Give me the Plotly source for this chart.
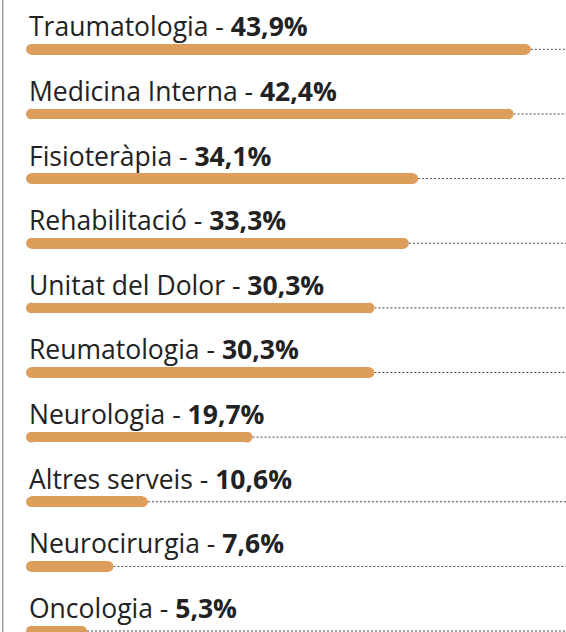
import plotly.graph_objects as go

categories = ["Traumatologia", "Medicina Interna", "Fisioteràpia", "Rehabilitació",
              "Unitat del Dolor", "Reumatologia", "Neurologia", "Altres serveis",
              "Neurocirurgia", "Oncologia"]
values = [43.9, 42.4, 34.1, 33.3, 30.3, 30.3, 19.7, 10.6, 7.6, 5.3]

BAR_COLOR = "#DD9E5B"
TEXT_COLOR = "#222222"
W, H = 566, 632

# axis ranges (value units / row units)
PX_PER_UNIT = 11.5
x_min, x_max = -26 / PX_PER_UNIT, (566 - 26) / PX_PER_UNIT
y_top, y_bottom = -0.763, 9.015
BAR_PX = 10.7
ROW_PX = 64.64
cap = (BAR_PX / 2) / PX_PER_UNIT  # cap radius in value units

labels = [f"{v:.1f}".replace(".", ",") + "%" for v in values]
rows = list(range(len(categories)))

fig = go.Figure()

# dotted leader lines from bar end to the right edge
for i, v in zip(rows, values):
    fig.add_trace(go.Scatter(
        x=[v, x_max], y=[i, i], mode="lines",
        line=dict(color="#4a4a4a", width=1, dash="2px,2px"),
        hoverinfo="skip", showlegend=False))

# bar bodies
fig.add_trace(go.Bar(
    y=rows, x=[v - 2 * cap for v in values], base=[cap] * len(values),
    orientation="h", width=BAR_PX / ROW_PX,
    marker=dict(color=BAR_COLOR, line=dict(width=0)),
    showlegend=False, hoverinfo="skip"))

# rounded caps at both ends
fig.add_trace(go.Scatter(
    x=[cap] * len(values) + [v - cap for v in values], y=rows + rows,
    mode="markers",
    marker=dict(color=BAR_COLOR, size=BAR_PX, line=dict(width=0)),
    showlegend=False, hoverinfo="skip"))

for i, (c, lab) in enumerate(zip(categories, labels)):
    fig.add_annotation(
        x=0, y=i, xref="x", yref="y", xanchor="left", yanchor="bottom",
        xshift=1, yshift=3, showarrow=False,
        text=f"{c} - <b>{lab}</b>",
        font=dict(family="Open Sans", size=26.5, color=TEXT_COLOR))

fig.add_shape(type="line", xref="paper", yref="paper", x0=0.0048, x1=0.0048,
              y0=0, y1=1, line=dict(color="#9a9a9a", width=1.5))

fig.update_layout(
    width=W, height=H, margin=dict(l=0, r=0, t=0, b=0),
    paper_bgcolor="white", plot_bgcolor="white",
    barmode="overlay", bargap=0,
    xaxis=dict(range=[x_min, x_max], visible=False, fixedrange=True),
    yaxis=dict(range=[y_bottom, y_top], visible=False, fixedrange=True),
    showlegend=False)

fig.write_html("out.html", config={"displayModeBar": False},
               post_script="document.body.style.margin='0';")
